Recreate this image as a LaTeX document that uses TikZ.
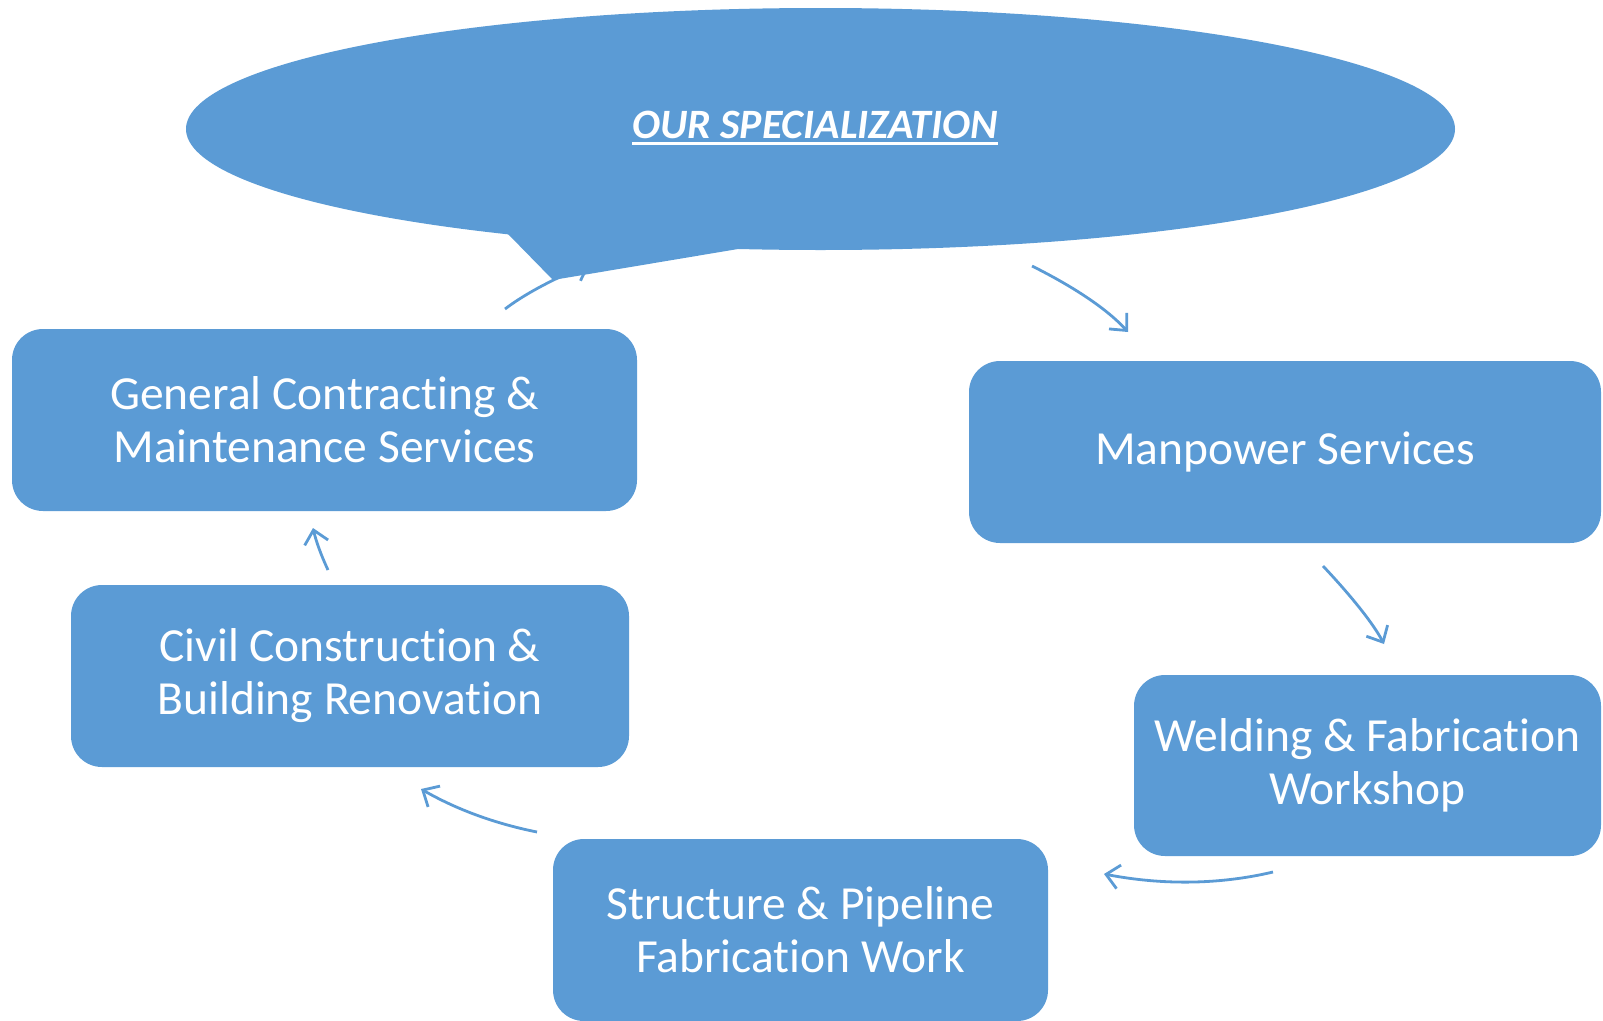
\documentclass[tikz,border=0pt]{standalone}
\usepackage{fontspec}
\setmainfont{Carlito}[RawFeature=-liga]
\usetikzlibrary{shapes.geometric,arrows.meta}
\definecolor{sblue}{HTML}{5B9BD5}
\tikzset{
  box/.style={fill=sblue, draw=none, rounded corners=31pt, minimum height=182pt, inner sep=0pt,
    text=white, align=center, font=\fontsize{47.5}{53}\selectfont},
  conn/.style={draw=sblue, line width=2.8pt, -{Straight Barb[length=13pt,width=24pt,line width=2.8pt]}},
}
\begin{document}
\begin{tikzpicture}[x=1pt,y=-1pt]
\useasboundingbox (0,0) rectangle (1603,1020);
% arrow under callout
\coordinate (a1s) at (505,309);
\coordinate (a1e) at (590,264);
\draw[conn] (a1s) .. controls (522,296) and (550,280) .. (a1e);
% callout
\node[ellipse, fill=sblue, draw=none, minimum width=1269pt, minimum height=242pt, inner sep=0pt] (callout) at (820.5,129) {};
\fill[sblue] (508,234) -- (553,280) -- (738,249) -- (740,200) -- (510,200) -- cycle;
\node[inner sep=0pt, text=white, font=\fontsize{41.8}{48}\selectfont\bfseries\itshape] (title) at (815,125) {OUR SPECIALIZATION};
\draw[white, line width=3pt] ([yshift=-5pt]title.base west) -- ([yshift=-5pt]title.base east);
% boxes
\node[box, minimum width=625pt] (gen) at (324.5,420) {General Contracting \&\\Maintenance Services};
\node[box, minimum width=632pt] (man) at (1285,452) {Manpower Services};
\node[box, minimum width=467pt, minimum height=181pt] (weld) at (1367.5,765.5) {Welding \& Fabrication\\Workshop};
\node[box, minimum width=495pt] (struct) at (800.5,930) {Structure \& Pipeline\\Fabrication Work};
\node[box, minimum width=558pt] (civil) at (350,676) {Civil Construction \&\\Building Renovation};
% connectors
\coordinate (a2s) at (1032,266);
\coordinate (a2e) at (1128,332);
\draw[conn] (a2s) .. controls (1076,288) and (1108,310) .. (a2e);
\coordinate (a3s) at (1323,566);
\coordinate (a3e) at (1384,644);
\draw[conn] (a3s) .. controls (1354,599) and (1374,625) .. (a3e);
\coordinate (a4s) at (1273,872);
\coordinate (a4e) at (1104,874);
\draw[conn] (a4s) .. controls (1218,885) and (1161,885) .. (a4e);
\coordinate (a5s) at (537,832);
\coordinate (a5e) at (421,789);
\draw[conn] (a5s) .. controls (492,823) and (454,808) .. (a5e);
\coordinate (a6s) at (328,570);
\coordinate (a6e) at (313,528);
\draw[conn] (a6s) .. controls (321,555) and (316,541) .. (a6e);
\end{tikzpicture}
\end{document}
